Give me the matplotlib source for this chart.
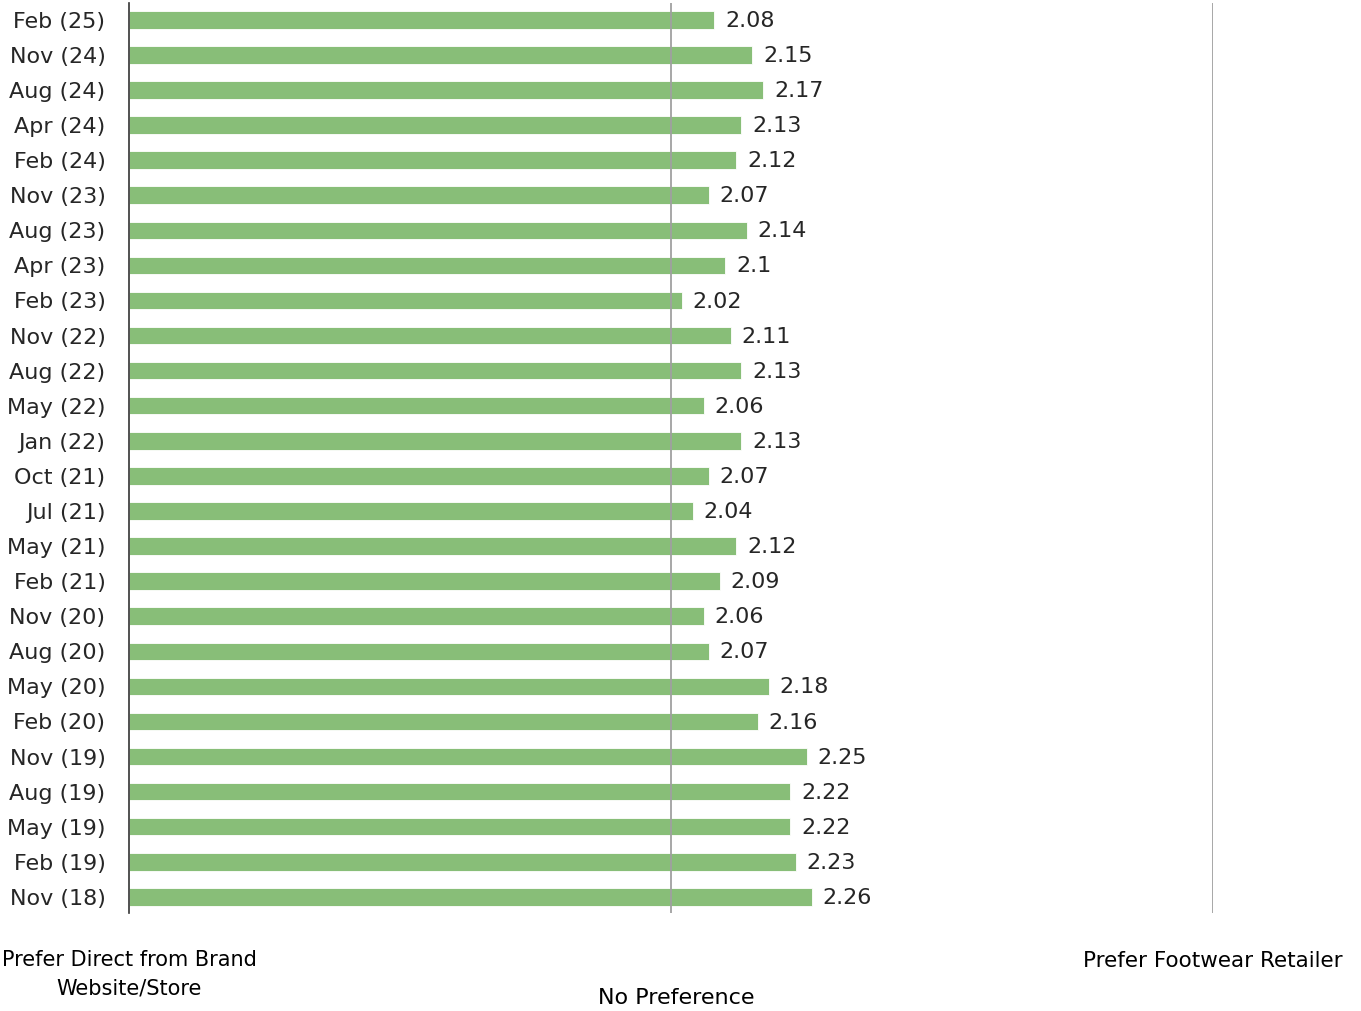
import numpy as np
import matplotlib.pyplot as plt

periods = ['Nov (18)', 'Feb (19)', 'May (19)', 'Aug (19)', 'Nov (19)', 'Feb (20)',
           'May (20)', 'Aug (20)', 'Nov (20)', 'Feb (21)', 'May (21)', 'Jul (21)',
           'Oct (21)', 'Jan (22)', 'May (22)', 'Aug (22)', 'Nov (22)', 'Feb (23)',
           'Apr (23)', 'Aug (23)', 'Nov (23)', 'Feb (24)', 'Apr (24)', 'Aug (24)',
           'Nov (24)', 'Feb (25)']
scores = [2.26, 2.23, 2.22, 2.22, 2.25, 2.16, 2.18, 2.07, 2.06, 2.09, 2.12, 2.04,
          2.07, 2.13, 2.06, 2.13, 2.11, 2.02, 2.1, 2.14, 2.07, 2.12, 2.13, 2.17,
          2.15, 2.08]
scale_ticks = [1, 2, 3]
scale_labels = ['Prefer Direct from Brand\nWebsite/Store', 'No Preference',
                'Prefer Footwear Retailer']

plt.rcParams['font.family'] = ['DejaVu Sans']
fs = 16
fig = plt.figure(figsize=(13.61, 10.11), dpi=100)
ax = fig.add_axes([129/1361, 1 - 913/1011, (1213-129)/1361, (913-3)/1011])

y = np.arange(len(periods))
base = scale_ticks[0]
ax.barh(y, np.array(scores) - base, left=base, height=0.5, color='#88be78',
        edgecolor='white', linewidth=0.6, zorder=2)
for yi, v in zip(y, scores):
    ax.text(v + 0.02, yi - 0.03, f'{v:g}', va='center', ha='left', fontsize=fs,
            color='#262626')

ax.set_xlim(scale_ticks[0], scale_ticks[-1])
ax.set_ylim(-0.46, len(periods) - 1 + 0.48)
ax.set_yticks(y)
ax.set_yticklabels(periods, fontsize=fs, color='#262626')
ax.tick_params(axis='y', length=0, pad=17)
ax.set_xticks([])
for s in ['top', 'right', 'bottom']:
    ax.spines[s].set_visible(False)
ax.spines['left'].set_color('#333333')
ax.spines['left'].set_linewidth(1.2)
for t in scale_ticks[1:]:
    ax.axvline(t, color='#a0a0a0', linewidth=1.3, zorder=3)

# scale end labels below the axis
ax.text(scale_ticks[0], -2.2, scale_labels[0], ha='center', va='center',
        fontsize=15, linespacing=1.5, clip_on=False)
ax.text(scale_ticks[1] + 0.01, -2.88, scale_labels[1], ha='center', va='center',
        fontsize=fs, clip_on=False)
ax.text(scale_ticks[2], -1.82, scale_labels[2], ha='center', va='center',
        fontsize=15.5, clip_on=False)

fig.savefig('out.png', dpi=100)
